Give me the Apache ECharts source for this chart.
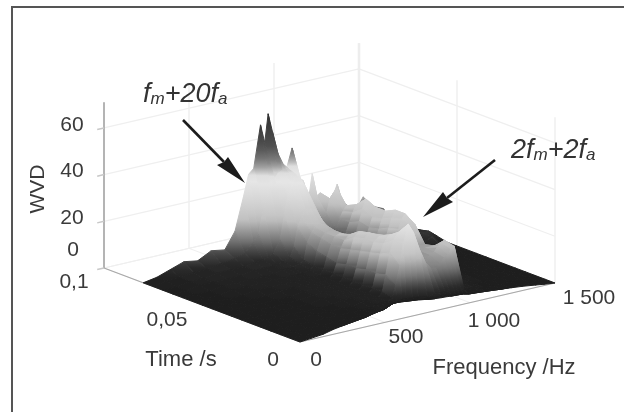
<!DOCTYPE html>
<html><head><meta charset="utf-8"><style>html,body{margin:0;padding:0;background:#fff}#c{width:624px;height:412px}</style>
<script src="https://cdn.jsdelivr.net/npm/echarts@6/dist/echarts.min.js"></script></head>
<body><div id="c"></div>
<script>
const freqHz=[0,80,160,240,320,400,480,540,590,620,650,690,715,735,760,780,810,840,876,910,941,970,994,1020,1041,1060,1080,1110,1141,1170,1200,1250,1294,1350,1412,1450,1500];
const timeStartS=[0,.001,.002,.004,.0055,.0068,.008,.0095,.0105,.011,.012,.0135,.0143,.0143,.014,.0135,.013,.0125,.011,.0102,.0097,.0095,.0092,.009,.0088,.0085,.0075,.0072,.0068,.0064,.006,.0052,.0045,.0035,.002,.001,0];
const timeRowsS=[.08,.075,.07,.065,.06,.055,.05,.045,.04,.035,.03,.025,.02,.015,.01,.005,0];
const wvdT080=[0,1,3,5,4,7,6,13,27,36,38,56,48,60,52,44,38,34,43,30,28,18,30,20,21,14,13,17,23,15,13,10,15,10,8,3,1];
const wvdT075=[0,1,1,2,2,3,4,5,9,12,22,30,34,36,37,37,36,34,29,22,16,12,12,14,20,22,24,14,10,8,7,5,4,3,2,1,1];
const wvdT070=[0,0,1,1,2,2,2,3,3,4,5,10,20,28,32,34,34,30,24,14,8,6,7,9,13,16,18,10,6,4,3,2,2,1,1,1,0];
const wvdT065=[0,0,1,1,1,1,2,2,2,2,3,4,8,16,20,23,23,22,17,11,6,5,6,9,13,17,20,9,5,3,2,2,1,2,3,3,1];
const wvdT060=[0,0,0,1,1,1,1,1,2,2,2,3,4,11,15,17,18,17,14,9,5,5,7,10,15,20,24,10,5,3,2,1,2,3,4,4,1];
const wvdT055=[0,0,0,1,1,1,1,1,1,1,1,2,3,9,14,16,17,16,13,8,5,5,7,9,14,18,22,9,4,2,2,1,1,2,4,1,0];
const wvdT050=[0,0,0,0,1,1,1,1,1,1,1,1,3,8,13,16,17,16,13,8,5,6,8,10,15,19,22,9,4,2,1,1,1,1,1,0,0];
const wvdT045=[0,0,0,0,0,1,1,1,1,1,1,1,3,7,13,16,18,17,14,9,6,7,9,12,17,21,24,10,3,2,1,1,0,0,0,0,0];
const wvdT040=[0,0,0,0,0,0,1,1,1,1,1,1,3,8,14,19,21,20,16,11,8,9,11,14,18,22,24,6,2,1,1,0,0,0,0,0,0];
const wvdT035=[0,0,0,0,0,0,1,1,1,1,1,1,3,8,15,20,22,21,18,13,10,11,13,16,18,20,21,3,1,1,1,0,0,0,0,0,0];
const wvdT030=[0,0,0,0,0,0,1,1,1,1,1,1,3,9,16,20,22,22,19,15,12,13,14,14,14,14,14,1,1,1,1,0,0,0,0,0,0];
const wvdT025=[0,0,0,0,0,0,0,1,1,1,1,1,3,9,17,21,24,24,20,16,14,14,14,15,15,15,15,1,1,1,1,0,0,0,0,0,0];
const wvdT020=[0,0,0,0,0,0,0,0,1,1,1,1,3,10,19,24,27,26,21,16,13,13,14,15,17,18,19,2,1,1,1,0,0,0,0,0,0];
const wvdT015=[0,0,0,0,0,0,0,0,0,1,1,1,2,7,15,24,32,28,20,14,11,11,12,14,15,17,18,1,1,1,0,0,0,0,0,0,0];
const wvdT010=[0,0,0,0,0,0,0,0,0,0,0,0,0,0,1,1,1,1,1,2,2,2,2,2,2,2,1,1,1,0,0,0,0,0,0,0,0];
const wvdT005=[0,0,0,0,0,0,0,0,0,0,0,0,0,0,0,0,0,0,0,0,1,1,0,0,0,0,0,0,0,0,0,0,0,0,0,0,0];
const wvdT000=[0,0,0,0,0,0,0,0,0,0,0,0,0,0,0,0,0,0,0,0,0,0,0,0,0,0,0,0,0,0,0,0,0,0,0,0,0];
const wvdRows=[wvdT080,wvdT075,wvdT070,wvdT065,wvdT060,wvdT055,wvdT050,wvdT045,wvdT040,wvdT035,wvdT030,wvdT025,wvdT020,wvdT015,wvdT010,wvdT005,wvdT000];
const freqTicks=[0,500,1000,1500];
const freqTickLabels=['0','500','1 000','1 500'];
const timeTicks=[0,.05,.1];
const timeTickLabels=['0','0,05','0,1'];
const wvdTicks=[0,20,40,60];
const wvdTickLabels=['0','20','40','60'];
const colormapZ=[0,3,6,10,14,18,25,33,36,38,41,47,58,66];
const colormapGray=[30,42,70,118,155,192,212,230,222,176,128,80,52,40];

// oblique projection of the 3D box onto the page
const FRONT=[300,342],PER_HZ=[255/1500,-59/1500],PER_S=[-196/0.1,-74/0.1],PER_Z=-2.335,ZTOP=71;
const proj=(f,t,z)=>[FRONT[0]+PER_HZ[0]*f+PER_S[0]*t,FRONT[1]+PER_HZ[1]*f+PER_S[1]*t+PER_Z*z];
function gray(z){let i=0;while(i<colormapZ.length-2&&z>colormapZ[i+1])i++;
 const k=Math.min(1,(z-colormapZ[i])/(colormapZ[i+1]-colormapZ[i]));
 const g=Math.round(colormapGray[i]+k*(colormapGray[i+1]-colormapGray[i]));return `rgb(${g},${g},${g})`}
const TXT='#3a3a3a',FONT='"Liberation Sans",Arial,sans-serif';
const chart=echarts.init(document.getElementById('c'),null,{renderer:'canvas'});
const cells=[];
for(let r=0;r<timeRowsS.length-1;r++)for(let c=freqHz.length-2;c>=0;c--)cells.push([c,r]);
function vertex(c,r){const t=Math.max(timeRowsS[r],timeStartS[c]);return {p:proj(freqHz[c],t,wvdRows[r][c]),z:wvdRows[r][c]}}
function renderCell(params,api){
 const c=api.value(0),r=api.value(1);
 const vs=[vertex(c,r),vertex(c+1,r),vertex(c+1,r+1),vertex(c,r+1)];
 const pts=vs.map(v=>api.coord(v.p));
 let hi=vs[0],lo=vs[0];vs.forEach(v=>{if(v.z>hi.z)hi=v;if(v.z<lo.z)lo=v});
 let fill=gray((hi.z+lo.z)/2),stroke=fill;
 const yH=api.coord(hi.p)[1],yL=api.coord(lo.p)[1];
 if(hi.z-lo.z>1.5&&Math.abs(yH-yL)>1){
  const stops=[];for(let i=0;i<=10;i++)stops.push({offset:i/10,color:gray(hi.z+(lo.z-hi.z)*i/10)});
  fill={type:'linear',x:0,y:yH,x2:0,y2:yL,global:true,colorStops:stops};stroke=fill;
 }
 return {type:'polygon',shape:{points:pts},style:{fill:fill,stroke:stroke,lineWidth:1},silent:true};
}
// frame of the plot box
const L=(a,b,col,w)=>({a,b,col,w});
const G1='#efefef';
const boxLines=[];
wvdTicks.forEach(z=>{boxLines.push(L([0,.1,z],[1500,.1,z],G1,1.2));boxLines.push(L([1500,.1,z],[1500,0,z],G1,1.2));});
freqTicks.forEach(f=>{boxLines.push(L([f,.1,0],[f,.1,ZTOP],f===1500?'#e8e8e8':G1,f===1500?2.5:1.5));boxLines.push(L([f,0,0],[f,.1,0],G1,1));});
timeTicks.forEach(t=>{boxLines.push(L([1500,t,0],[1500,t,ZTOP],G1,1.5));boxLines.push(L([0,t,0],[1500,t,0],G1,1));});
boxLines.push(L([0,.1,0],[0,.1,ZTOP],'#b4b4b4',2));
boxLines.push(L([0,.1,0],[0,0,0],'#a8a8a8',1.2));
boxLines.push(L([0,0,0],[1500,0,0],'#a8a8a8',1.2));
wvdTicks.forEach(z=>boxLines.push(L([0,.1,z],[-40,.1,z],'#c8c8c8',1.5)));
function renderBox(params,api){const l=boxLines[params.dataIndex];
 const a=api.coord(proj(...l.a)),b=api.coord(proj(...l.b));
 return {type:'line',shape:{x1:a[0],y1:a[1],x2:b[0],y2:b[1]},style:{stroke:l.col,lineWidth:l.w},silent:true};}
// tick labels, placed from the projected tick with a fixed offset
const labels=[];
wvdTicks.forEach((z,i)=>labels.push({pos:[0,.1,z],text:wvdTickLabels[i],off:z===0?[-31,-18]:[-32,-3]}));
timeTicks.forEach((t,i)=>labels.push({pos:[0,t,0],text:timeTickLabels[i],off:[[-27,18],[-35,15],[-30,14]][i]}));
freqTicks.forEach((f,i)=>labels.push({pos:[f,0,0],text:freqTickLabels[i],off:[[16,18],[21,15],[24,19],[34,15]][i]}));
function renderLabel(params,api){const l=labels[params.dataIndex];const a=api.coord(proj(...l.pos));
 return {type:'text',x:a[0]+l.off[0],y:a[1]+l.off[1],style:{text:l.text,fill:TXT,font:'21px '+FONT,align:'center',verticalAlign:'middle'},silent:true};}
const richStyle={t:{fontSize:27,fontStyle:'italic',fontFamily:FONT,fill:'#333',lineHeight:32,verticalAlign:'bottom'},s:{fontSize:17,fontStyle:'italic',fontFamily:FONT,fill:'#333',lineHeight:26,verticalAlign:'bottom'}};
function arrow(x0,y0,x1,y1,bx1,by1,bx2,by2,nx,ny){return [
 {type:'line',shape:{x1:x0,y1:y0,x2:nx,y2:ny},style:{stroke:'#1c1c1c',lineWidth:2.6}},
 {type:'polygon',shape:{points:[[x1,y1],[bx1,by1],[nx,ny],[bx2,by2]]},style:{fill:'#1c1c1c'}}];}
chart.setOption({
 animation:false,backgroundColor:'#fff',
 grid:{left:0,right:0,top:0,bottom:0},
 xAxis:{type:'value',min:0,max:624,show:false},
 yAxis:{type:'value',min:0,max:412,inverse:true,show:false},
 series:[
  {type:'custom',name:'box',data:boxLines.map((_,i)=>[i]),renderItem:renderBox,clip:false,z:1,silent:true},
  {type:'custom',name:'WVD',data:cells,renderItem:renderCell,clip:false,z:2,silent:true,progressive:0,encode:{x:0,y:1}},
  {type:'custom',name:'labels',data:labels.map((_,i)=>[i]),renderItem:renderLabel,clip:false,z:3,silent:true}
 ],
 graphic:[
  {type:'line',shape:{x1:12,y1:7,x2:624,y2:7},style:{stroke:'#555',lineWidth:2},z:10},
  {type:'line',shape:{x1:12,y1:6,x2:12,y2:412},style:{stroke:'#555',lineWidth:2},z:10},
  {type:'text',x:38,y:189,rotation:Math.PI/2,style:{text:'WVD',fill:TXT,font:'21px '+FONT,align:'center',verticalAlign:'middle'},z:10},
  {type:'text',x:181,y:360,style:{text:'Time /s',fill:TXT,font:'22px '+FONT,align:'center',verticalAlign:'middle'},z:10},
  {type:'text',x:504,y:368,style:{text:'Frequency /Hz',fill:TXT,font:'22px '+FONT,align:'center',verticalAlign:'middle'},z:10},
  {type:'text',x:143,y:76,style:{text:'{t|f}{s|m}{t|+20f}{s|a}',rich:richStyle},z:10},
  {type:'text',x:511,y:132,style:{text:'{t|2f}{s|m}{t|+2f}{s|a}',rich:richStyle},z:10},
  ...arrow(183,120,245,183,217,165,228,157,224,162).map(o=>Object.assign(o,{z:10})),
  ...arrow(495,160,423,217,443,192,453,202,447,198).map(o=>Object.assign(o,{z:10}))
 ]
});
</script></body></html>
